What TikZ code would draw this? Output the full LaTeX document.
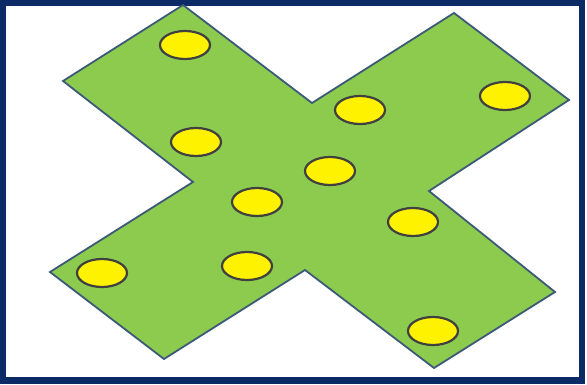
\documentclass[tikz,border=0pt]{standalone}
\usetikzlibrary{shapes.geometric}
\definecolor{framecol}{HTML}{0B2A66}
\definecolor{xgreen}{HTML}{8CCB4E}
\definecolor{xedge}{HTML}{3C5A78}
\definecolor{dotedge}{HTML}{404040}
\tikzset{
  dot/.style={ellipse, draw=dotedge, line width=2.2pt, fill=yellow, minimum width=50pt, minimum height=28pt, inner sep=0pt},
  xshape/.style={draw=xedge, line width=1.8pt, fill=xgreen, line join=miter},
  framebox/.style={draw=framecol, line width=6.5pt}
}
\begin{document}
\begin{tikzpicture}[x=1pt,y=-1pt]
\useasboundingbox (0,0) rectangle (587,385);
\fill[white] (0,0) rectangle (587,385);
\draw[framebox] (3.2,2.8) rectangle (582,380.5);
\draw[xshape] (183,5) -- (312,103) -- (454,13) -- (569,100) -- (429,191) -- (555,292) -- (434,368) -- (305,270) -- (164,359) -- (50,272) -- (193,182) -- (63,81) -- cycle;
\node[dot] (d1) at (185,45) {};
\node[dot] (d2) at (196,142) {};
\node[dot] (d3) at (360,110) {};
\node[dot] (d4) at (505,96) {};
\node[dot] (d5) at (330,171) {};
\node[dot] (d6) at (257,202) {};
\node[dot] (d7) at (413,222) {};
\node[dot] (d8) at (102,273) {};
\node[dot] (d9) at (247,266) {};
\node[dot] (d10) at (433,331) {};
\end{tikzpicture}
\end{document}
